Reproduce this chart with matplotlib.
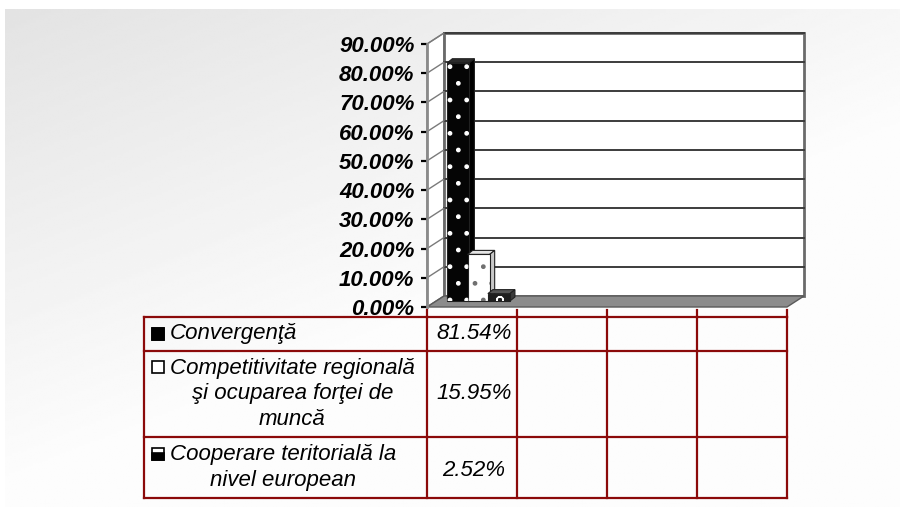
import numpy as np
import matplotlib
matplotlib.use("Agg")
import matplotlib.pyplot as plt
from matplotlib.patches import Polygon, Rectangle
from matplotlib.transforms import IdentityTransform, offset_copy

plt.rcParams["font.family"] = ["Liberation Sans", "DejaVu Sans"]

series = ["Convergenţă",
          "Competitivitate regională\nşi ocuparea forţei de\nmuncă",
          "Cooperare teritorială la\nnivel european"]
values = [0.8154, 0.1595, 0.0252]
n_cats = 4
yticks = [0.0, 0.1, 0.2, 0.3, 0.4, 0.5, 0.6, 0.7, 0.8, 0.9]

# styles
W, H = 900, 507
RED = "#8b0a0a"
face_c = ["#050505", "#ffffff", "#1e1e1e"]
side_c = ["#000000", "#c8c8c8", "#3a3a3a"]
top_c = ["#2a2a2a", "#e4e4e4", "#555555"]
hatch = [".", ".", "o"]
hatch_c = ["#ffffff", "#707070", "#ffffff"]
bar_x = [0.26, 0.485, 0.71]
bar_w = 0.245

fig = plt.figure(figsize=(9, 5.07), dpi=100)

# background gradient
bg = fig.add_axes([0, 0, 1, 1], zorder=0)
bg.set_xlim(0, W); bg.set_ylim(H, 0); bg.axis("off")
yy, xx = np.mgrid[0:1:200j, 0:1:300j]
g = np.clip(0.89 + 0.105 * yy + 0.075 * xx, 0, 0.99)
bg.imshow(g, cmap="gray", vmin=0, vmax=1, extent=(5, W, H, 9),
          aspect="auto", interpolation="bilinear")

# chart axes = front plane
ax = fig.add_axes([427 / W, (H - 307) / H, 360 / W, 263 / H], zorder=1)
ax.patch.set_visible(False)
ax.set_xlim(0, n_cats); ax.set_ylim(0, 0.9)
for s in ["top", "right", "bottom"]:
    ax.spines[s].set_visible(False)
ax.spines["left"].set_color("#8a8a8a"); ax.spines["left"].set_linewidth(2)
ax.set_xticks([])
ax.set_yticks(yticks)
ax.set_yticklabels([f"{t * 100:.2f}%" for t in yticks], fontsize=16,
                   fontweight="bold", fontstyle="italic")
ax.tick_params(axis="y", length=4, width=1.6, color="black", pad=5)

back = offset_copy(ax.transData, fig=fig, x=17, y=11, units="dots")

def disp(tr, pts):
    return tr.transform(np.asarray(pts, float))

def poly(verts, **kw):
    ax.add_patch(Polygon(verts, closed=True, transform=IdentityTransform(),
                         clip_on=False, **kw))

# side wall, back wall, gridlines, floor
poly(np.vstack([disp(ax.transData, [(0, 0), (0, 0.9)]), disp(back, [(0, 0.9), (0, 0)])]),
     fc="white", ec="#8a8a8a", lw=1, zorder=0.5)
ax.add_patch(Rectangle((0, 0), n_cats, 0.9, transform=back, fc="white",
                       ec="#6a6a6a", lw=2, clip_on=False, zorder=0.6))
for t in yticks[1:]:
    ax.plot([0, n_cats], [t, t], transform=back, color="#3c3c3c", lw=1.4,
            clip_on=False, zorder=0.7)
for t in yticks:
    f = disp(ax.transData, [(0, t)])[0]; b = disp(back, [(0, t)])[0]
    ax.plot([f[0], b[0]], [f[1], b[1]], transform=IdentityTransform(),
            color="#7a7a7a", lw=1, clip_on=False, zorder=0.7)
poly(np.vstack([disp(ax.transData, [(0, 0), (n_cats, 0)]), disp(back, [(n_cats, 0), (0, 0)])]),
     fc="#8c8c8c", ec="#5a5a5a", lw=1, zorder=0.8)

# 3d bars
ft = offset_copy(ax.transData, fig=fig, x=8, y=6, units="dots")
rear = offset_copy(ax.transData, fig=fig, x=13, y=10, units="dots")
for i, v in enumerate(values):
    x0, x1 = bar_x[i] - bar_w / 2, bar_x[i] + bar_w / 2
    z = 2 + i
    poly(np.vstack([disp(ft, [(x0, v), (x1, v)]), disp(rear, [(x1, v), (x0, v)])]),
         fc=top_c[i], ec="#202020", lw=0.8, zorder=z)
    poly(np.vstack([disp(ft, [(x1, 0), (x1, v)]), disp(rear, [(x1, v), (x1, 0)])]),
         fc=side_c[i], ec="#202020", lw=0.8, zorder=z)
    ax.bar(bar_x[i], v, bar_w, transform=ft, color=face_c[i], ec="#202020",
           lw=0.8, zorder=z + 0.1, clip_on=False)
    ax.bar(bar_x[i], v, bar_w, transform=ft, fill=False, hatch=hatch[i],
           ec=hatch_c[i], lw=0, zorder=z + 0.2, clip_on=False)

# data table
tb = fig.add_axes([0, 0, 1, 1], zorder=3)
tb.set_xlim(0, W); tb.set_ylim(H, 0); tb.axis("off")
inv = tb.transData.inverted()
col_edges = [inv.transform(ax.transData.transform((k, 0)))[0] for k in range(n_cats + 1)]
table_left = 144
row_edges = [316.7, 350.7, 436.7, 498]
for y in row_edges:
    tb.plot([table_left, col_edges[-1]], [y, y], color=RED, lw=1.6)
for x in [table_left] + col_edges:
    tb.plot([x, x], [row_edges[0], row_edges[-1]], color=RED, lw=1.6)
for x in col_edges:
    tb.plot([x, x], [row_edges[0] - 7, row_edges[0]], color=RED, lw=1.6)

line_h = 26.5
for i, (name, v) in enumerate(zip(series, values)):
    cy = (row_edges[i] + row_edges[i + 1]) / 2
    nl = name.count("\n") + 1
    tb.text(170, cy, name, ha="left", va="center", multialignment="center",
            fontsize=16, fontstyle="italic", linespacing=1.28)
    ky = cy - (nl - 1) / 2 * line_h
    tb.add_patch(Rectangle((152, ky - 6), 12, 12, fc="white", ec="black", lw=1.2))
    if i == 0:
        tb.add_patch(Rectangle((152, ky - 6), 12, 12, fc="black", ec="black", lw=1.2))
    elif i == 2:
        tb.add_patch(Rectangle((152, ky - 1.5), 12, 7.5, fc="black", ec="black", lw=1.2))
    tb.text((col_edges[0] + col_edges[1]) / 2 + 2, cy + (3 if i == 2 else 0),
            f"{v * 100:.2f}%", ha="center", va="center", fontsize=16,
            fontstyle="italic")

fig.savefig("out.png", dpi=100)
